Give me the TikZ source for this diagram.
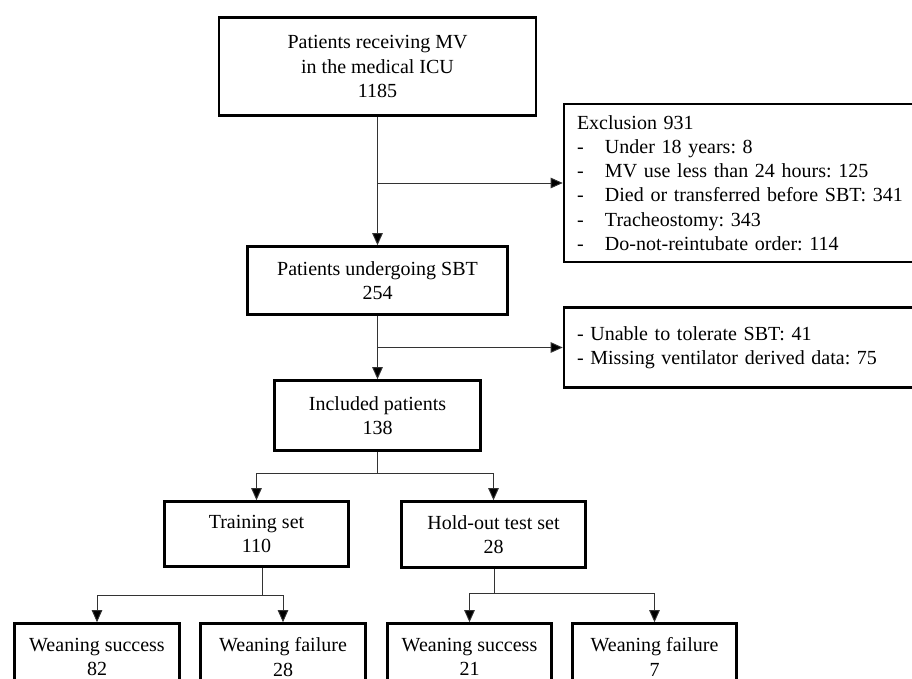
\documentclass[tikz,border=0pt]{standalone}
\usepackage{fontspec}
\setmainfont{Liberation Serif}
\usepackage{tikz}
\usetikzlibrary{positioning,arrows.meta}
\frenchspacing

\begin{document}
\begin{tikzpicture}[x=1pt,y=-1pt,
  box/.style={draw,line width=2.6pt,align=center,inner sep=0pt,
    font=\fontsize{20}{24.3}\selectfont},
  listbox/.style={box,align=left,inner xsep=13pt,
    text width=330pt},
  arr/.style={line width=0.9pt,draw=black!80,
    -{Triangle[length=12pt,width=10.5pt,fill=black]}},
  link/.style={line width=0.9pt,draw=black!80}]
  \useasboundingbox (0,0) rectangle (912,679);
  \node[box,minimum width=317pt,minimum height=98pt] (mv) at (377.5,66.5)
    {Patients receiving MV\\in the medical ICU\\1185};
  \node[box,minimum width=260pt,minimum height=68pt] (sbt) at (377.5,280.5)
    {Patients undergoing SBT\\254};
  \node[box,minimum width=206pt,minimum height=70pt] (incl) at (377.5,415.5)
    {Included patients\\138};
  \node[listbox,minimum width=356pt,minimum height=158pt] (excl) at (742,183)
    {Exclusion 931\\
     \makebox[28pt][l]{-}Under 18 years: 8\\
     \makebox[28pt][l]{-}MV use less than 24 hours: 125\\
     \makebox[28pt][l]{-}Died or transferred before SBT: 341\\
     \makebox[28pt][l]{-}Tracheostomy: 343\\
     \makebox[28pt][l]{-}Do-not-reintubate order: 114};
  \node[listbox,minimum width=356pt,minimum height=80pt] (miss) at (742,347.5)
    {- Unable to tolerate SBT: 41\\- Missing ventilator derived data: 75};
  \node[box,minimum width=184pt,minimum height=65pt] (train) at (256.5,534)
    {Training set\\110};
  \node[box,minimum width=184pt,minimum height=66pt] (hold) at (493.5,534.5)
    {Hold-out test set\\28};
  \node[box,minimum width=165pt,minimum height=67pt] (trsucc) at (97,657)
    {Weaning success\\82};
  \node[box,minimum width=165pt,minimum height=67pt] (trfail) at (283,657)
    {Weaning failure\\28};
  \node[box,minimum width=164pt,minimum height=67pt] (hosucc) at (469.5,657)
    {Weaning success\\21};
  \node[box,minimum width=164pt,minimum height=67pt] (hofail) at (654.5,657)
    {Weaning failure\\7};
  \coordinate (split1) at (377.5,183);
  \coordinate (split2) at (377.5,347.5);
  \coordinate (split3) at (377.5,473);
  \coordinate (split4) at (262,595);
  \coordinate (split5) at (494,593);
  \draw[arr] (mv.south) -- (sbt.north);
  \draw[arr] (split1) -- (excl);
  \draw[arr] (sbt.south) -- (incl.north);
  \draw[arr] (split2) -- (miss);
  \draw[link] (incl.south) -- (split3);
  \draw[arr] (split3) -| (train.north);
  \draw[arr] (split3) -| (hold.north);
  \draw[link] (train.south -| split4) -- (split4);
  \draw[arr] (split4) -| (trsucc.north);
  \draw[arr] (split4) -| (trfail.north);
  \draw[link] (hold.south -| split5) -- (split5);
  \draw[arr] (split5) -| (hosucc.north);
  \draw[arr] (split5) -| (hofail.north);
\end{tikzpicture}
\end{document}
